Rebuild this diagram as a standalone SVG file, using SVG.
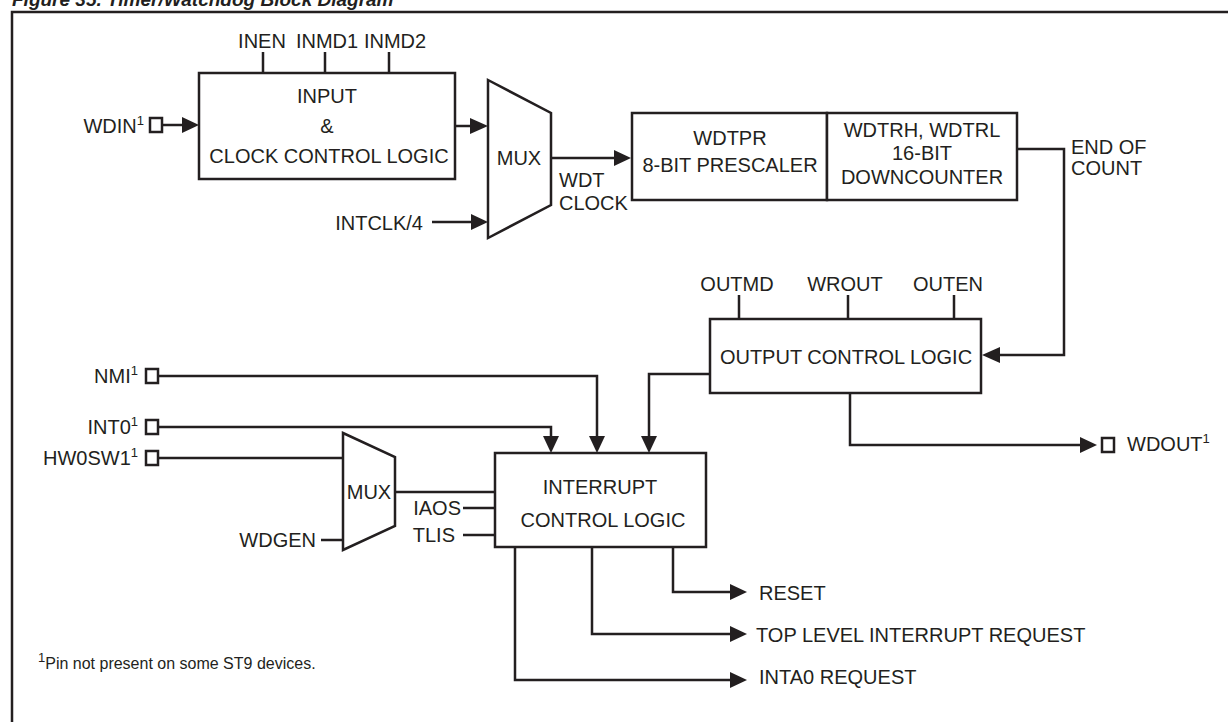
<svg xmlns="http://www.w3.org/2000/svg" width="1228" height="722" viewBox="0 0 1228 722">
<style>
text{font-family:"Liberation Sans",Arial,sans-serif;font-size:20px;fill:#231f20}
.m{text-anchor:middle}
.e{text-anchor:end}
.sup{font-size:13px}
.box{fill:#fff;stroke:#231f20;stroke-width:2.5}
.ln{fill:none;stroke:#231f20;stroke-width:2.5}
.ah{fill:#231f20;stroke:none}
.title{font-weight:bold;font-style:italic;font-size:19px}
.fn{font-size:16px}
</style>
<rect width="1228" height="722" fill="#fff"/>
<text class="title" x="12" y="6">Figure 35. Timer/Watchdog Block Diagram</text>
<rect x="12" y="12" width="1240" height="730" class="ln"/>

<g id="connectors">
<path class="ln" d="M263,52V73M325,52V73M389,52V73"/>
<path class="ln" d="M162,125H184"/><polygon class="ah" points="182,117 199,125 182,133"/>
<path class="ln" d="M455,126H472"/><polygon class="ah" points="470,118 488,126 470,134"/>
<path class="ln" d="M551,158H616"/><polygon class="ah" points="614,150 631,158 614,166"/>
<path class="ln" d="M432,222H473"/><polygon class="ah" points="471,214 488,222 471,230"/>
<path class="ln" d="M1017,149H1064V355H998"/><polygon class="ah" points="1000,347 982,355 1000,363"/>
<path class="ln" d="M739,295V319M848,295V319M954,295V319"/>
<path class="ln" d="M710,374H649V438"/><polygon class="ah" points="641,436 657,436 649,453"/>
<path class="ln" d="M850,393V445H1082"/><polygon class="ah" points="1080,437 1097,445 1080,453"/>
<path class="ln" d="M158,376H597V438"/><polygon class="ah" points="589,436 605,436 597,453"/>
<path class="ln" d="M158,427H551V438"/><polygon class="ah" points="543,436 559,436 551,453"/>
<path class="ln" d="M158,458H343"/>
<path class="ln" d="M395,492H495M463,508H495M463,535H495M321,540H343"/>
<path class="ln" d="M673,547V592H732"/><polygon class="ah" points="730,584 747,592 730,600"/>
<path class="ln" d="M592,547V634H732"/><polygon class="ah" points="730,626 747,634 730,642"/>
<path class="ln" d="M515,547V680H732"/><polygon class="ah" points="730,672 747,680 730,688"/>
</g>

<g id="input-logic">
<rect class="box" x="199" y="73" width="256" height="106"/>
<text class="m" x="327" y="103">INPUT</text>
<text class="m" x="327" y="133">&amp;</text>
<text class="m" x="329" y="163">CLOCK CONTROL LOGIC</text>
<text class="m" x="262" y="48">INEN</text>
<text class="m" x="327" y="48">INMD1</text>
<text class="m" x="395" y="48">INMD2</text>
</g>

<g id="wdin">
<text class="e" x="144" y="133">WDIN<tspan class="sup" dy="-8">1</tspan></text>
<rect class="box" x="150" y="118" width="12" height="14"/>
</g>

<g id="mux1">
<polygon class="box" points="488,80 551,113 551,205 488,238"/>
<text class="m" x="519" y="165">MUX</text>
</g>
<g id="wdt-clock"><text x="559" y="187">WDT</text><text x="559" y="210">CLOCK</text></g>
<g id="intclk"><text class="e" x="423" y="230">INTCLK/4</text></g>

<g id="prescaler">
<rect class="box" x="632" y="113" width="195" height="87"/>
<text class="m" x="730" y="145">WDTPR</text>
<text class="m" x="730" y="172">8-BIT PRESCALER</text>
</g>
<g id="downcounter">
<rect class="box" x="827" y="113" width="190" height="87"/>
<text class="m" x="922" y="137">WDTRH, WDTRL</text>
<text class="m" x="922" y="160">16-BIT</text>
<text class="m" x="922" y="184">DOWNCOUNTER</text>
</g>
<g id="eoc"><text x="1071" y="154">END OF</text><text x="1071" y="175">COUNT</text></g>

<g id="output-logic">
<rect class="box" x="710" y="319" width="271" height="74"/>
<text class="m" x="846" y="364">OUTPUT CONTROL LOGIC</text>
<text class="m" x="737" y="291">OUTMD</text>
<text class="m" x="845" y="291">WROUT</text>
<text class="m" x="948" y="291">OUTEN</text>
</g>
<g id="wdout">
<rect class="box" x="1102" y="438" width="12" height="14"/>
<text x="1127" y="451">WDOUT<tspan class="sup" dy="-8">1</tspan></text>
</g>

<g id="nmi">
<text class="e" x="138" y="383">NMI<tspan class="sup" dy="-8">1</tspan></text>
<rect class="box" x="146" y="369" width="12" height="14"/>
</g>
<g id="int0">
<text class="e" x="138" y="434">INT0<tspan class="sup" dy="-8">1</tspan></text>
<rect class="box" x="146" y="420" width="12" height="14"/>
</g>
<g id="hw0sw1">
<text class="e" x="138" y="465">HW0SW1<tspan class="sup" dy="-8">1</tspan></text>
<rect class="box" x="146" y="451" width="12" height="14"/>
</g>

<g id="mux2">
<polygon class="box" points="343,433 395,457 395,526 343,550"/>
<text class="m" x="369" y="499">MUX</text>
</g>
<g id="wdgen"><text class="e" x="316" y="547">WDGEN</text></g>
<g id="iaos"><text class="e" x="461" y="515">IAOS</text></g>
<g id="tlis"><text class="e" x="455" y="542">TLIS</text></g>

<g id="interrupt-logic">
<rect class="box" x="495" y="453" width="211" height="94"/>
<text class="m" x="600" y="494">INTERRUPT</text>
<text class="m" x="603" y="527">CONTROL LOGIC</text>
</g>
<g id="outputs">
<text x="759" y="600">RESET</text>
<text x="756" y="642">TOP LEVEL INTERRUPT REQUEST</text>
<text x="759" y="684">INTA0 REQUEST</text>
</g>
<g id="footnote"><text class="fn" x="38" y="669"><tspan class="sup" dy="-7">1</tspan><tspan dy="7">Pin not present on some ST9 devices.</tspan></text></g>
</svg>
